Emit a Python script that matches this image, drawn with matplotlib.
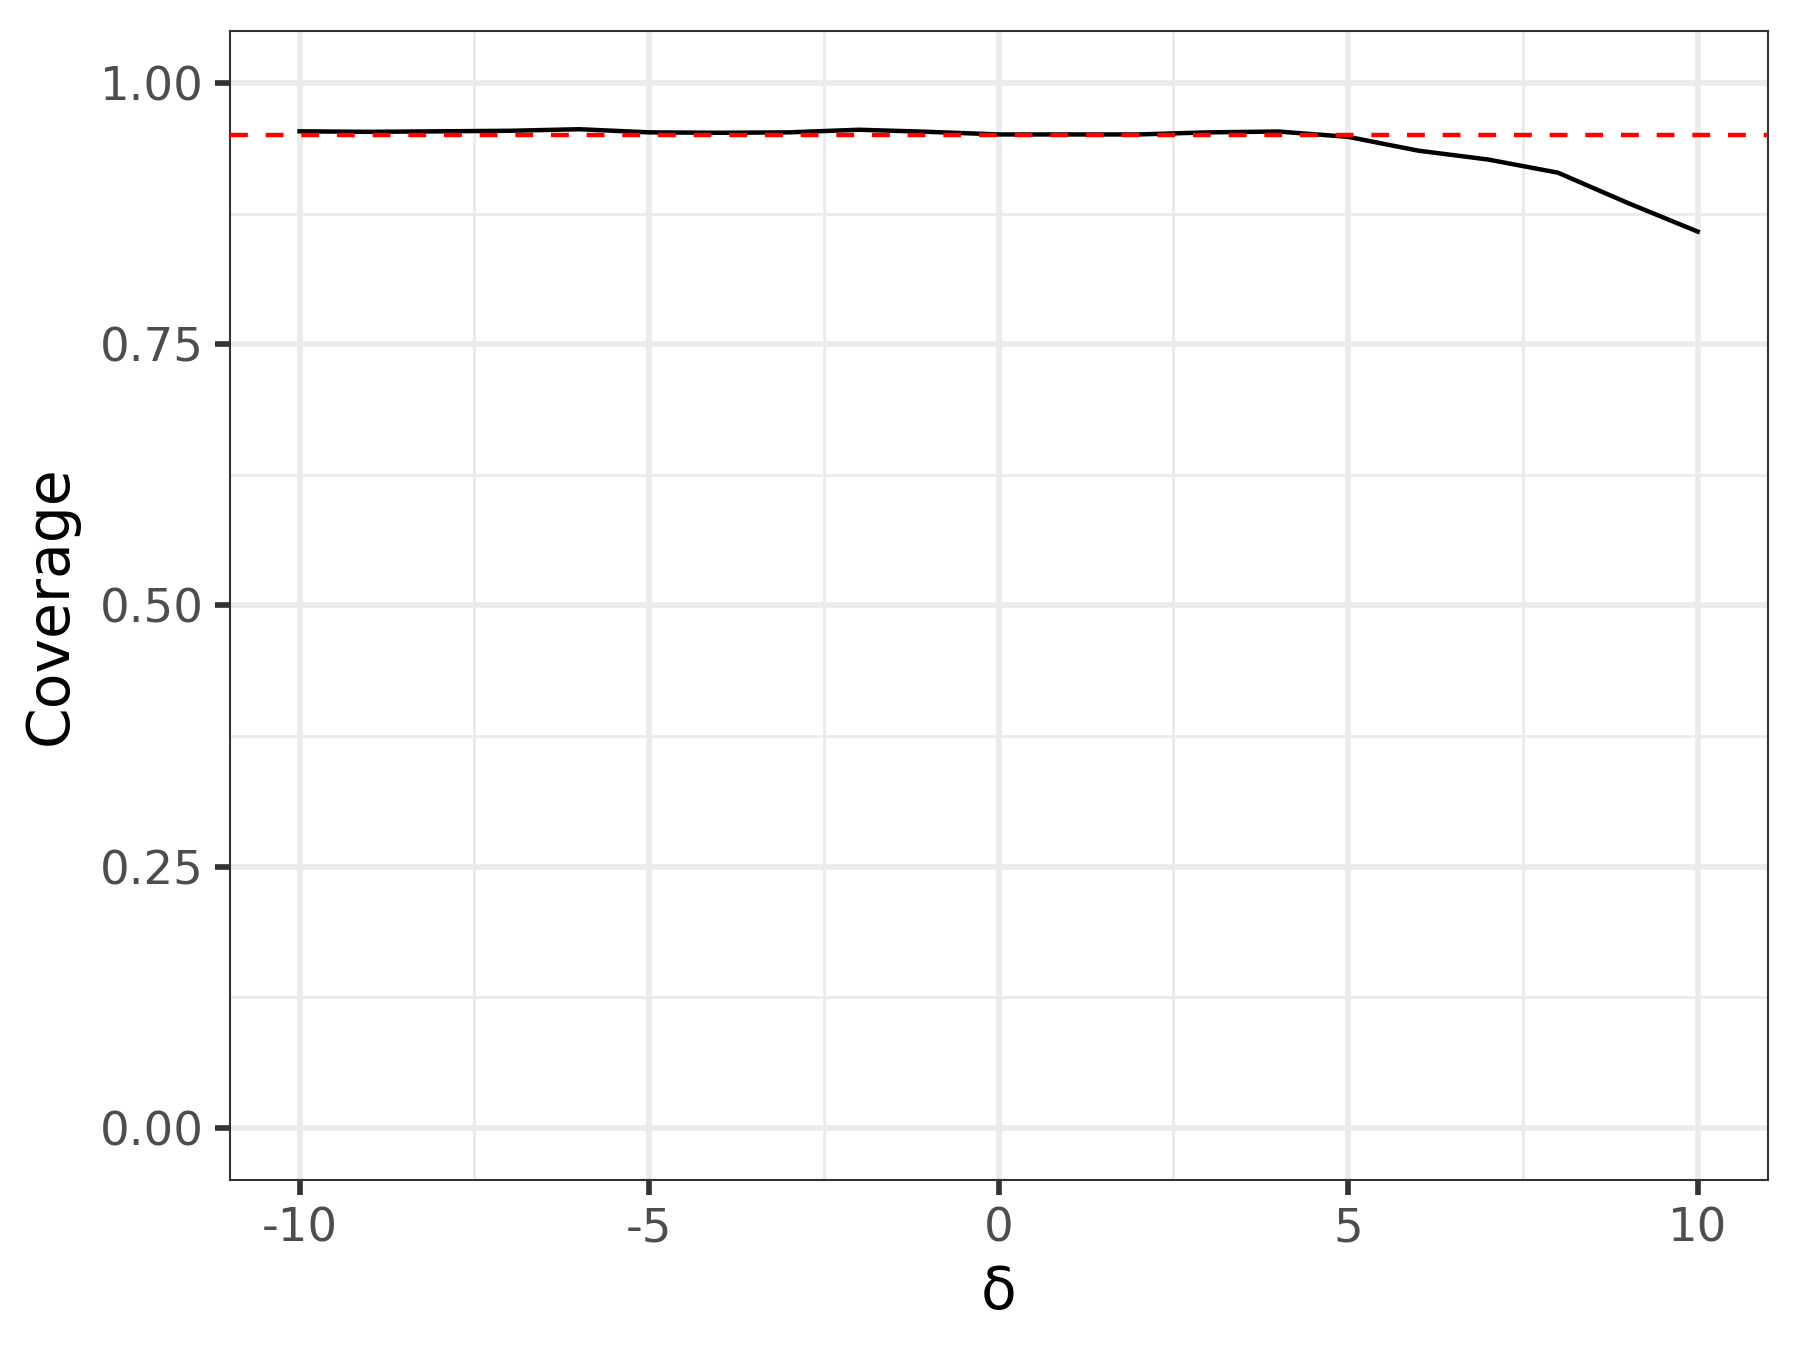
import numpy as np
import matplotlib.pyplot as plt

# coverage vs delta
delta = list(range(-10, 11))
coverage = [0.954, 0.9535, 0.954, 0.9545, 0.956, 0.953, 0.9526, 0.953, 0.9555, 0.9535,
            0.951, 0.951, 0.951, 0.953, 0.9538, 0.9487, 0.9355, 0.927, 0.9144, 0.8854,
            0.858]
nominal = 0.95

yticks = [0.00, 0.25, 0.50, 0.75, 1.00]
xticks = [-10, -5, 0, 5, 10]

plt.rcParams['font.family'] = 'DejaVu Sans'

fig = plt.figure(figsize=(6, 4.5), dpi=300)
ax = fig.add_axes([0.1276, 0.126, 0.8544, 0.851])

# theme_bw style grid
for v in np.arange(-7.5, 10, 5):
    ax.axvline(v, color='#EBEBEB', lw=0.68, zorder=0)
for v in [0.125, 0.375, 0.625, 0.875]:
    ax.axhline(v, color='#EBEBEB', lw=0.68, zorder=0)
for v in xticks:
    ax.axvline(v, color='#EBEBEB', lw=1.36, zorder=0)
for v in yticks:
    ax.axhline(v, color='#EBEBEB', lw=1.36, zorder=0)

ax.plot(delta, coverage, color='black', lw=1.07, zorder=2)
ax.axhline(nominal, color='red', lw=1.07, dashes=(4, 4), zorder=3)

ax.set_xlim(-11, 11)
ax.set_ylim(-0.05, 1.05)
ax.set_xticks(xticks)
ax.set_xticklabels([str(x) for x in xticks])
ax.set_yticks(yticks)
ax.set_yticklabels(['%.2f' % y for y in yticks])

for s in ax.spines.values():
    s.set_color('#333333')
    s.set_linewidth(0.5)
ax.tick_params(axis='both', colors='#333333', width=1.36, length=3.5,
               labelsize=11.2, labelcolor='#4D4D4D', pad=2.8)

ax.set_xlabel('δ', fontsize=14, labelpad=3)
ax.set_ylabel('Coverage', fontsize=14, labelpad=5)

fig.savefig('out.png')
